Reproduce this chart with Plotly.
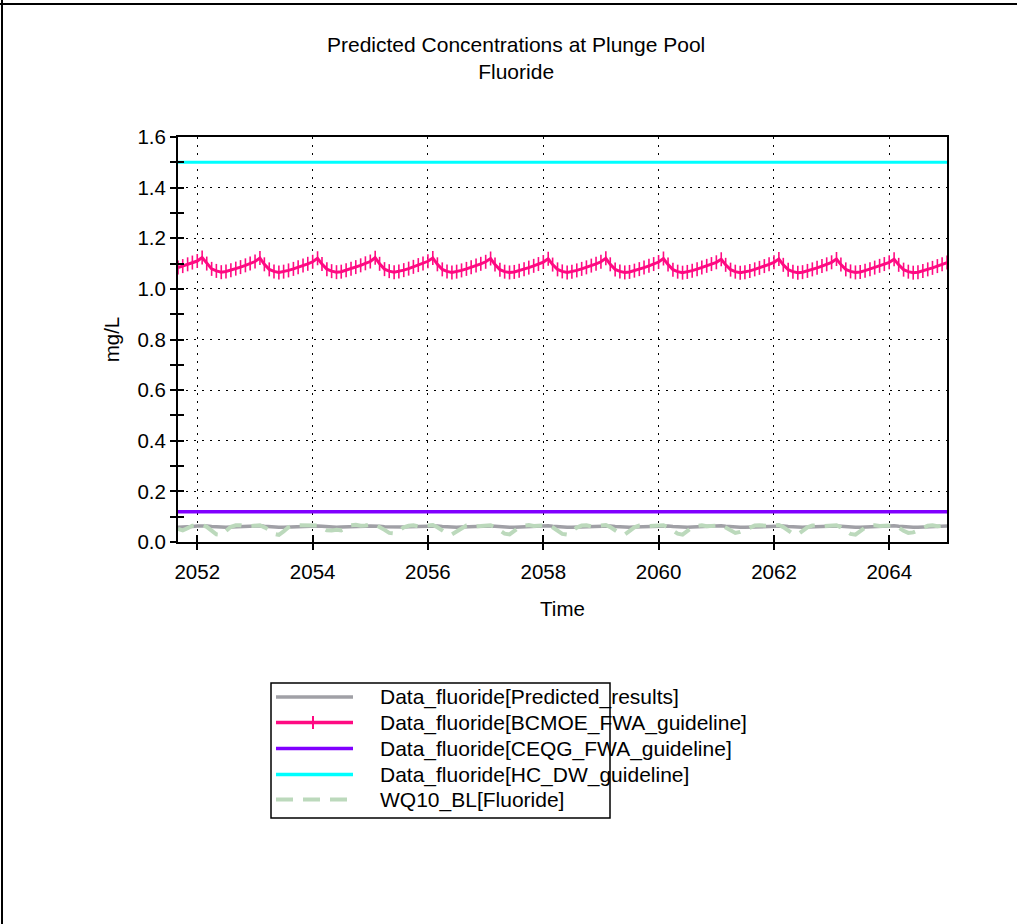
import pandas as pd
import plotly.graph_objects as go

# Monthly time steps of the simulation
time = pd.date_range("2051-09-01", "2065-01-01", freq="MS")

# BCMOE freshwater-aquatic guideline (hardness dependent), mg/L
bcmoe_fwa = [
    1.084, 1.090, 1.097, 1.104,
    1.110, 1.124, 1.100, 1.079, 1.071, 1.066, 1.069, 1.074, 1.080, 1.086, 1.093, 1.100,
    1.108, 1.122, 1.097, 1.077, 1.069, 1.065, 1.068, 1.073, 1.079, 1.085, 1.092, 1.099,
    1.107, 1.121, 1.098, 1.078, 1.070, 1.066, 1.068, 1.074, 1.080, 1.086, 1.093, 1.101,
    1.108, 1.123, 1.099, 1.078, 1.070, 1.066, 1.069, 1.074, 1.080, 1.087, 1.094, 1.100,
    1.109, 1.122, 1.097, 1.077, 1.069, 1.065, 1.068, 1.073, 1.079, 1.085, 1.092, 1.099,
    1.107, 1.120, 1.096, 1.076, 1.068, 1.065, 1.067, 1.072, 1.078, 1.084, 1.091, 1.098,
    1.106, 1.119, 1.096, 1.077, 1.069, 1.065, 1.068, 1.073, 1.079, 1.085, 1.092, 1.099,
    1.107, 1.121, 1.097, 1.077, 1.069, 1.065, 1.067, 1.072, 1.078, 1.084, 1.091, 1.098,
    1.106, 1.120, 1.096, 1.076, 1.068, 1.064, 1.067, 1.072, 1.078, 1.084, 1.091, 1.098,
    1.105, 1.117, 1.095, 1.076, 1.068, 1.064, 1.066, 1.071, 1.077, 1.083, 1.090, 1.097,
    1.105, 1.118, 1.095, 1.076, 1.068, 1.064, 1.066, 1.071, 1.077, 1.083, 1.090, 1.097,
    1.105, 1.118, 1.096, 1.077, 1.069, 1.065, 1.067, 1.072, 1.078, 1.084, 1.091, 1.098,
    1.105, 1.117, 1.095, 1.076, 1.068, 1.064, 1.066, 1.071, 1.077, 1.083, 1.090, 1.097,
    1.104,
]

# Predicted fluoride concentration at the plunge pool, mg/L
predicted = [
    0.058, 0.058, 0.059, 0.061,
    0.063, 0.064, 0.063, 0.061, 0.059, 0.058, 0.058, 0.059, 0.060, 0.060, 0.061, 0.062,
    0.063, 0.064, 0.062, 0.060, 0.059, 0.058, 0.058, 0.059, 0.060, 0.061, 0.061, 0.062,
    0.063, 0.063, 0.062, 0.060, 0.058, 0.058, 0.059, 0.059, 0.060, 0.060, 0.061, 0.062,
    0.063, 0.064, 0.062, 0.060, 0.059, 0.058, 0.058, 0.059, 0.060, 0.061, 0.061, 0.062,
    0.063, 0.064, 0.063, 0.061, 0.059, 0.058, 0.058, 0.059, 0.060, 0.060, 0.061, 0.062,
    0.063, 0.063, 0.062, 0.060, 0.059, 0.058, 0.058, 0.059, 0.060, 0.061, 0.061, 0.062,
    0.063, 0.064, 0.062, 0.060, 0.058, 0.058, 0.058, 0.059, 0.060, 0.060, 0.061, 0.062,
    0.063, 0.064, 0.063, 0.061, 0.059, 0.058, 0.058, 0.059, 0.060, 0.061, 0.061, 0.062,
    0.064, 0.065, 0.063, 0.061, 0.059, 0.058, 0.058, 0.059, 0.060, 0.060, 0.061, 0.062,
    0.063, 0.064, 0.062, 0.060, 0.059, 0.058, 0.058, 0.059, 0.060, 0.061, 0.061, 0.062,
    0.063, 0.064, 0.063, 0.061, 0.059, 0.058, 0.058, 0.059, 0.060, 0.060, 0.061, 0.062,
    0.063, 0.063, 0.062, 0.060, 0.059, 0.058, 0.058, 0.059, 0.060, 0.061, 0.061, 0.062,
    0.063, 0.064, 0.062, 0.060, 0.059, 0.058, 0.058, 0.059, 0.060, 0.060, 0.061, 0.062,
    0.063,
]

# Baseline water quality (WQ10_BL), mg/L
wq10_bl = [
    0.052, 0.046, 0.055, 0.064,
    0.066, 0.067, 0.060, 0.045, 0.030, 0.028, 0.045, 0.060, 0.066, 0.066, 0.062, 0.064,
    0.066, 0.066, 0.058, 0.048, 0.032, 0.028, 0.042, 0.058, 0.066, 0.066, 0.063, 0.064,
    0.066, 0.065, 0.056, 0.046, 0.045, 0.048, 0.046, 0.056, 0.066, 0.068, 0.064, 0.065,
    0.069, 0.068, 0.060, 0.048, 0.036, 0.034, 0.044, 0.058, 0.064, 0.066, 0.062, 0.064,
    0.066, 0.067, 0.058, 0.046, 0.034, 0.030, 0.042, 0.057, 0.065, 0.066, 0.062, 0.063,
    0.066, 0.066, 0.059, 0.047, 0.033, 0.030, 0.043, 0.058, 0.065, 0.067, 0.063, 0.064,
    0.066, 0.066, 0.058, 0.046, 0.032, 0.029, 0.042, 0.057, 0.065, 0.066, 0.062, 0.064,
    0.066, 0.067, 0.059, 0.047, 0.034, 0.030, 0.043, 0.058, 0.065, 0.066, 0.063, 0.064,
    0.067, 0.066, 0.058, 0.046, 0.033, 0.029, 0.044, 0.058, 0.064, 0.066, 0.062, 0.064,
    0.066, 0.066, 0.057, 0.044, 0.036, 0.040, 0.048, 0.058, 0.065, 0.066, 0.063, 0.064,
    0.066, 0.067, 0.059, 0.047, 0.033, 0.030, 0.043, 0.058, 0.065, 0.066, 0.062, 0.064,
    0.066, 0.066, 0.058, 0.046, 0.032, 0.029, 0.042, 0.057, 0.065, 0.066, 0.063, 0.064,
    0.066, 0.066, 0.058, 0.044, 0.036, 0.038, 0.046, 0.057, 0.064, 0.066, 0.062, 0.064,
    0.065,
]

# Constant guideline levels, mg/L
ceqg_fwa_level = 0.12
hc_dw_level = 1.5
ceqg_fwa = [ceqg_fwa_level] * len(time)
hc_dw = [hc_dw_level] * len(time)

series_names = [
    "Data_fluoride[Predicted_results]",
    "Data_fluoride[BCMOE_FWA_guideline]",
    "Data_fluoride[CEQG_FWA_guideline]",
    "Data_fluoride[HC_DW_guideline]",
    "WQ10_BL[Fluoride]",
]

GRAY = "#A0A0A6"
PINK = "#FF0A82"
PURPLE = "#8000FF"
CYAN = "#00FFFF"
SAGE = "#BCD9BC"
FONT = "Liberation Sans, Arial, sans-serif"

W, H = 1020, 924
PL, PR, PT, PB = 178, 947, 137, 542   # plot area in pixels


def px(x):
    return (x - PL) / (PR - PL)


def py(y):
    return (PB - y) / (PB - PT)


fig = go.Figure()

fig.add_trace(go.Scatter(x=time, y=predicted, mode="lines",
                         line=dict(color=GRAY, width=3.5), name=series_names[0]))
fig.add_trace(go.Scatter(x=time, y=bcmoe_fwa, mode="lines+markers",
                         line=dict(color=PINK, width=3),
                         marker=dict(symbol="line-ns", size=10,
                                     line=dict(color=PINK, width=1.6)),
                         name=series_names[1]))
fig.add_trace(go.Scatter(x=time, y=ceqg_fwa, mode="lines",
                         line=dict(color=PURPLE, width=3.5), name=series_names[2]))
fig.add_trace(go.Scatter(x=time, y=hc_dw, mode="lines",
                         line=dict(color=CYAN, width=3), name=series_names[3]))
fig.add_trace(go.Scatter(x=time, y=wq10_bl, mode="lines",
                         line=dict(color=SAGE, width=4, dash="17px,10px"),
                         name=series_names[4]))
# carrier trace for the inner tick axes
fig.add_trace(go.Scatter(x=[time[0]], y=[0], xaxis="x2", yaxis="y2",
                         mode="markers", marker=dict(opacity=0),
                         hoverinfo="skip"))

x_range = ["2051-09-01", "2065-01-01"]
y_range = [0, 1.6]

fig.update_layout(
    width=W, height=H,
    margin=dict(l=PL, r=W - PR, t=PT, b=H - PB),
    paper_bgcolor="white", plot_bgcolor="white",
    showlegend=False, hovermode=False,
    font=dict(family=FONT, size=20, color="black"),
    xaxis=dict(
        type="date", range=x_range, tick0="2052-01-01", dtick="M24",
        tickformat="%Y", ticks="outside", ticklen=6, tickwidth=1.5,
        tickcolor="black", showline=True, linewidth=2, linecolor="black",
        mirror=True, showgrid=True, gridcolor="black", gridwidth=1,
        griddash="2px,6px", zeroline=False, ticklabelstandoff=4,
        tickfont=dict(size=20.5),
        title=dict(text="Time", font=dict(size=20.5), standoff=20),
    ),
    xaxis2=dict(
        type="date", range=x_range, tick0="2052-01-01", dtick="M24",
        overlaying="x", anchor="y", side="bottom", ticks="inside",
        ticklen=7, tickwidth=1.5, tickcolor="black", showticklabels=False,
        showgrid=False, showline=False, zeroline=False,
    ),
    yaxis=dict(
        range=y_range, dtick=0.2, tick0=0, tickformat=".1f",
        ticks="outside", ticklen=6, tickwidth=1.5, tickcolor="black",
        minor=dict(dtick=0.1, ticks="outside", ticklen=6, tickwidth=1.5,
                   tickcolor="black", showgrid=False),
        showline=True, linewidth=2, linecolor="black", mirror=True,
        showgrid=True, gridcolor="black", gridwidth=1, griddash="2px,6px",
        zeroline=False, tickfont=dict(size=20.5),
        title=dict(text="mg/L", font=dict(size=20.5), standoff=12),
    ),
    yaxis2=dict(
        range=y_range, dtick=0.2, tick0=0, overlaying="y", anchor="x",
        side="left", ticks="inside", ticklen=6, tickwidth=1.5,
        tickcolor="black",
        minor=dict(dtick=0.1, ticks="inside", ticklen=6, tickwidth=1.5,
                   tickcolor="black", showgrid=False),
        showticklabels=False, showgrid=False, showline=False, zeroline=False,
    ),
)

# Two-line title
fig.add_annotation(text="Predicted Concentrations at Plunge Pool<br>Fluoride",
                   xref="paper", yref="paper", x=px(516), y=py(58),
                   xanchor="center", yanchor="middle", showarrow=False,
                   font=dict(size=21, family=FONT), align="center")

# Legend box drawn in page pixels
shapes = []
LX0, LX1, LY0, LY1 = 271, 610, 683, 818
shapes.append(dict(type="rect", xref="paper", yref="paper",
                   x0=px(LX0), x1=px(LX1), y0=py(LY1), y1=py(LY0),
                   line=dict(color="black", width=1.5), fillcolor="white",
                   layer="below"))
item_y = [697, 722.5, 748.5, 774.5, 799.5]
item_style = [
    dict(color=GRAY, width=3.5),
    dict(color=PINK, width=3.5),
    dict(color=PURPLE, width=3.5),
    dict(color=CYAN, width=3.5),
    dict(color=SAGE, width=4, dash="17px,10px"),
]
for yy, st, name in zip(item_y, item_style, series_names):
    shapes.append(dict(type="line", xref="paper", yref="paper",
                       x0=px(276), x1=px(353), y0=py(yy), y1=py(yy),
                       line=st, layer="above"))
    fig.add_annotation(text=name, xref="paper", yref="paper",
                       x=px(378), y=py(yy), xanchor="left", yanchor="middle",
                       showarrow=False, font=dict(size=21, family=FONT))
# marker glyph on the BCMOE legend entry
shapes.append(dict(type="line", xref="paper", yref="paper",
                   x0=px(313), x1=px(313), y0=py(item_y[1] - 6.5),
                   y1=py(item_y[1] + 6.5),
                   line=dict(color=PINK, width=2), layer="above"))

# Page frame lines
shapes.append(dict(type="line", xref="paper", yref="paper",
                   x0=px(0), x1=px(1017), y0=py(4), y1=py(4),
                   line=dict(color="black", width=2)))
shapes.append(dict(type="line", xref="paper", yref="paper",
                   x0=px(2), x1=px(2), y0=py(0), y1=py(924),
                   line=dict(color="black", width=2)))
fig.update_layout(shapes=shapes)

fig.write_html("out.html", config={"displayModeBar": False})
